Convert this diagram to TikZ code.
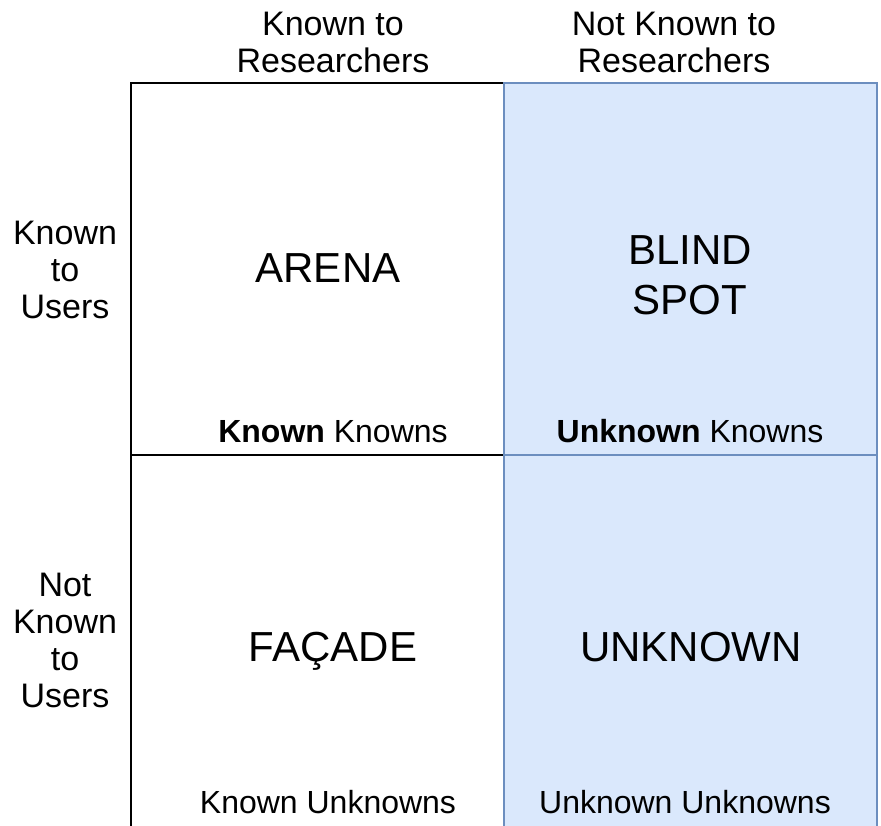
\documentclass[tikz,border=0pt]{standalone}
\usepackage{fontspec}
\setmainfont{Liberation Sans}
\definecolor{bluefill}{HTML}{DAE8FC}
\definecolor{bluestroke}{HTML}{6C8EBF}
\begin{document}
\begin{tikzpicture}[x=1pt,y=-1pt,
  hdr/.style={font=\fontsize{34}{37}\selectfont, align=center, inner sep=0pt},
  big/.style={font=\fontsize{42}{50}\selectfont, align=center, inner sep=0pt},
  sub/.style={font=\fontsize{32}{36}\selectfont, inner sep=0pt, anchor=base},
  whitecell/.style={draw=black, line width=2pt, fill=white, inner sep=0pt},
  bluecell/.style={draw=bluestroke, line width=2pt, fill=bluefill, inner sep=0pt}]
\useasboundingbox (0,0) rectangle (881,825);
\clip (0,0) rectangle (881,825);
% cells
\node[whitecell, minimum width=373pt, minimum height=372pt] (c11) at (317.5,269) {};
\node[whitecell, minimum width=373pt, minimum height=380pt] (c21) at (317.5,645) {};
\node[bluecell, minimum width=373pt, minimum height=372pt] (c12) at (690.5,269) {};
\node[bluecell, minimum width=373pt, minimum height=380pt] (c22) at (690.5,645) {};
% headers
\node[hdr] (h1) at (333,42) {Known to\\Researchers};
\node[hdr] (h2) at (674,42) {Not Known to\\Researchers};
\node[hdr] (r1) at (65,269.5) {Known\\to\\Users};
\node[hdr] (r2) at (65,640) {Not\\Known\\to\\Users};
% big labels
\node[big, anchor=base] (arena) at (328,282) {ARENA};
\node[big] (blind) at (690,275) {BLIND\\SPOT};
\node[big, anchor=base] (facade) at (333,661) {FAÇADE};
\node[big, anchor=base] (unknown) at (691,661) {UNKNOWN};
% sub labels
\node[sub] (kk) at (333,442) {\textbf{Known} Knowns};
\node[sub] (uk) at (690,442) {\textbf{Unknown} Knowns};
\node[sub] (ku) at (328,813) {Known Unknowns};
\node[sub] (uu) at (685,813) {Unknown Unknowns};
\end{tikzpicture}
\end{document}
